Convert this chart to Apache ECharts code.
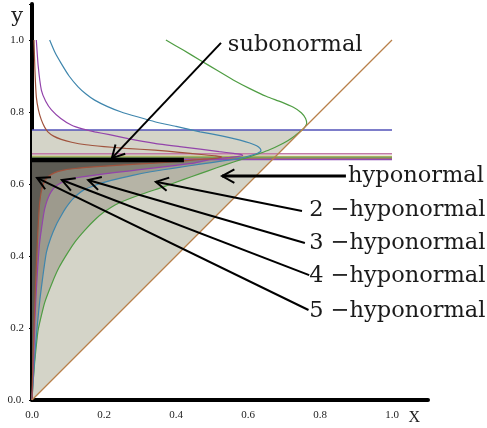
<!DOCTYPE html>
<html>
<head>
<meta charset="UTF-8">
<title>k-hyponormal regions</title>
<style>
  html, body { margin: 0; padding: 0; width: 100%; height: 100%; overflow: hidden; background: #fff; }
  #chart { width: 487px; height: 428px; }
</style>
<script src="https://cdn.jsdelivr.net/npm/echarts@6/dist/echarts.min.js"></script>
</head>
<body>
<div id="chart"></div>
<script>
// tick labels
const xTickLabels = ['0.0', '0.2', '0.4', '0.6', '0.8', '1.0'];
const yTickLabels = ['0.0.', '0.2', '0.4', '0.6', '0.8', '1.0'];

// straight pieces
const diagonal = [[0, 0], [1, 1]];
const subnormalSeg = [[0, 0.667], [0.422, 0.667]];
const hLevels = [0.75, 0.684, 0.677, 0.674, 0.671, 0.668];
const hColors = ['#5252b8', '#c27aa6', '#bdb65c', '#6aa86a', '#a87a50', '#8c4cb4'];

// boundary curves: top -> nose -> origin
const greenCurve = [
  [0.372, 1.0], [0.42, 0.972], [0.467, 0.944], [0.515, 0.915], [0.559, 0.889], [0.605, 0.865],
  [0.652, 0.843], [0.692, 0.828], [0.726, 0.813], [0.748, 0.798], [0.76, 0.782], [0.763, 0.768],
  [0.757, 0.757], [0.75, 0.75], [0.725, 0.73], [0.698, 0.713], [0.655, 0.693], [0.606, 0.676],
  [0.6, 0.674], [0.56, 0.661], [0.513, 0.645], [0.465, 0.628], [0.42, 0.612], [0.365, 0.592],
  [0.3, 0.57], [0.239, 0.546], [0.2, 0.522], [0.174, 0.5], [0.147, 0.472], [0.12, 0.44],
  [0.1, 0.41], [0.075, 0.368], [0.057, 0.328], [0.035, 0.27], [0.017, 0.194], [0.007, 0.1],
  [0.002, 0.035], [0, 0]
];
const blueCurve = [
  [0.049, 1.0], [0.064, 0.965], [0.081, 0.935], [0.103, 0.9], [0.128, 0.87], [0.15, 0.85],
  [0.174, 0.833], [0.21, 0.815], [0.248, 0.8], [0.295, 0.786], [0.341, 0.773], [0.4, 0.76],
  [0.467, 0.745], [0.53, 0.733], [0.578, 0.722], [0.605, 0.714], [0.624, 0.706], [0.634, 0.698],
  [0.636, 0.692], [0.628, 0.686], [0.6, 0.677], [0.575, 0.671], [0.53, 0.664], [0.467, 0.655],
  [0.4, 0.645], [0.33, 0.634], [0.28, 0.624], [0.22, 0.61], [0.18, 0.598], [0.143, 0.583],
  [0.115, 0.56], [0.095, 0.535], [0.081, 0.512], [0.069, 0.49], [0.052, 0.45], [0.04, 0.41],
  [0.031, 0.35], [0.022, 0.28], [0.015, 0.21], [0.009, 0.14], [0.004, 0.065], [0, 0]
];
const purpleCurve = [
  [0.012, 1.0], [0.017, 0.93], [0.026, 0.861], [0.038, 0.83], [0.054, 0.806], [0.08, 0.782],
  [0.109, 0.764], [0.14, 0.753], [0.174, 0.745], [0.215, 0.737], [0.267, 0.726], [0.341, 0.713],
  [0.41, 0.704], [0.467, 0.697], [0.52, 0.69], [0.56, 0.685], [0.582, 0.682], [0.585, 0.679],
  [0.57, 0.676], [0.54, 0.673], [0.5, 0.669], [0.45, 0.658], [0.4, 0.652], [0.341, 0.645],
  [0.267, 0.636], [0.2, 0.628], [0.128, 0.618], [0.1, 0.611], [0.08, 0.603], [0.064, 0.592],
  [0.053, 0.578], [0.045, 0.562], [0.039, 0.545], [0.034, 0.525], [0.027, 0.48], [0.021, 0.435],
  [0.016, 0.37], [0.012, 0.306], [0.008, 0.22], [0.005, 0.13], [0.002, 0.05], [0, 0]
];
const brownCurve = [
  [0.0056, 1.0], [0.008, 0.92], [0.012, 0.842], [0.018, 0.805], [0.026, 0.778], [0.035, 0.758],
  [0.044, 0.745], [0.06, 0.733], [0.081, 0.724], [0.11, 0.716], [0.15, 0.709], [0.2, 0.704],
  [0.26, 0.699], [0.341, 0.694], [0.41, 0.688], [0.47, 0.682], [0.51, 0.678], [0.527, 0.675],
  [0.51, 0.671], [0.48, 0.669], [0.45, 0.667], [0.4, 0.662], [0.341, 0.658], [0.267, 0.654],
  [0.18, 0.648], [0.12, 0.643], [0.085, 0.638], [0.062, 0.631], [0.047, 0.622], [0.037, 0.61],
  [0.03, 0.595], [0.025, 0.575], [0.021, 0.545], [0.018, 0.5], [0.015, 0.44], [0.012, 0.37],
  [0.009, 0.3], [0.006, 0.21], [0.003, 0.12], [0.001, 0.05], [0, 0]
];
const curveData = [greenCurve, blueCurve, purpleCurve, brownCurve];
const curveColors = ['#4f9d43', '#3f86ad', '#9344ab', '#a0533d'];

// shaded regions: hyponormal triangle, then nested 2..5-hyponormal wedges
const hypTriangle = [[0, 0], [0.75, 0.75], [0, 0.75]];
const wedgeTops = [0.674, 0.671, 0.669, 0.667];
const regionColors = ['#d4d4c8', '#b6b4a6', '#9d9a8d', '#848175', '#5d5b53'];

// annotations
const noteTexts = ['subonormal', 'hyponormal', '2 −hyponormal', '3 −hyponormal', '4 −hyponormal', '5 −hyponormal'];
const arrowTails = [[0.525, 0.992], [0.872, 0.622], [0.75, 0.525], [0.758, 0.436], [0.77, 0.347], [0.768, 0.25]];
const arrowTips = [[0.222, 0.672], [0.528, 0.622], [0.344, 0.606], [0.156, 0.611], [0.083, 0.611], [0.014, 0.617]];
const notePos = [[0.544, 0.986], [0.878, 0.622], [0.77, 0.528], [0.77, 0.436], [0.77, 0.344], [0.77, 0.247]];

const regionPolys = [hypTriangle].concat(curveData.map(function (c, i) {
  return c.filter(function (p) { return p[1] <= wedgeTops[i] + 1e-9; }).concat([[0, wedgeTops[i]]]);
}));

const chart = echarts.init(document.getElementById('chart'), null, { renderer: 'canvas' });

const series = [];

series.push({
  type: 'custom',
  silent: true,
  z: 1,
  data: regionPolys.map(function () { return [0, 0]; }),
  renderItem: function (params, api) {
    const pts = regionPolys[params.dataIndex].map(function (p) { return api.coord(p); });
    return { type: 'polygon', shape: { points: pts }, style: { fill: regionColors[params.dataIndex] } };
  }
});

hLevels.forEach(function (lv, i) {
  series.push({
    type: 'line', z: 2, showSymbol: false, silent: true,
    data: [[0, lv], [1, lv]],
    lineStyle: { color: hColors[i], width: 1.3 }
  });
});

curveData.forEach(function (c, i) {
  series.push({
    type: 'line', z: 3, showSymbol: false, silent: true, smooth: 0.15,
    data: c,
    lineStyle: { color: curveColors[i], width: 1.2 }
  });
});

series.push({
  type: 'line', z: 3, showSymbol: false, silent: true,
  data: diagonal,
  lineStyle: { color: '#b8804a', width: 1.2 }
});

series.push({
  type: 'line', z: 4, showSymbol: false, silent: true,
  data: subnormalSeg,
  lineStyle: { color: '#000', width: 4.5, cap: 'butt' }
});

series.push({
  type: 'custom',
  silent: true,
  z: 5,
  data: arrowTails.map(function (t, i) {
    return [t[0], t[1], arrowTips[i][0], arrowTips[i][1], notePos[i][0], notePos[i][1]];
  }),
  renderItem: function (params, api) {
    const a = api.coord([api.value(0), api.value(1)]);
    const b = api.coord([api.value(2), api.value(3)]);
    const t = api.coord([api.value(4), api.value(5)]);
    const ang = Math.atan2(a[1] - b[1], a[0] - b[0]);
    const L = 14, w = 0.5;
    const w1 = [b[0] + L * Math.cos(ang + w), b[1] + L * Math.sin(ang + w)];
    const w2 = [b[0] + L * Math.cos(ang - w), b[1] + L * Math.sin(ang - w)];
    const lw = params.dataIndex === 1 ? 3 : 2;
    return {
      type: 'group',
      children: [
        { type: 'polyline', shape: { points: [a, b] }, style: { stroke: '#000', lineWidth: lw, fill: null } },
        { type: 'polyline', shape: { points: [w1, b, w2] }, style: { stroke: '#000', lineWidth: 2, fill: null } },
        {
          type: 'text', x: t[0], y: t[1],
          style: {
            text: noteTexts[params.dataIndex], fontFamily: 'DejaVu Serif', fontSize: 22.5,
            fill: '#1a1a1a', align: 'left', verticalAlign: 'middle'
          }
        }
      ]
    };
  }
});

const option = {
  animation: false,
  backgroundColor: '#fff',
  grid: { left: 32, right: 59, top: 4, bottom: 28, containLabel: false, outerBoundsMode: 'none' },
  xAxis: {
    type: 'value', min: 0, max: 1.1, interval: 0.2,
    name: 'X', nameLocation: 'end', nameGap: -8,
    nameTextStyle: { fontFamily: 'Liberation Serif', fontSize: 16, color: '#222', align: 'right', verticalAlign: 'top', padding: [10, 0, 0, 0] },
    axisLine: { show: true, lineStyle: { color: '#000', width: 4 } },
    axisTick: { show: false },
    splitLine: { show: false },
    axisLabel: {
      margin: 10, fontFamily: 'Liberation Serif', fontSize: 11, color: '#222',
      formatter: function (v, idx) { return xTickLabels[idx] || ''; }
    }
  },
  yAxis: {
    type: 'value', min: 0, max: 1.1, interval: 0.2,
    name: 'y', nameLocation: 'end', nameGap: -13,
    nameTextStyle: { fontFamily: 'DejaVu Serif', fontSize: 21, color: '#222', align: 'right', verticalAlign: 'middle', padding: [0, 9, 0, 0] },
    axisLine: { show: true, lineStyle: { color: '#000', width: 4 } },
    axisTick: { show: true, length: 3, lineStyle: { color: '#000', width: 1 } },
    splitLine: { show: false },
    axisLabel: {
      margin: 8, fontFamily: 'Liberation Serif', fontSize: 11, color: '#222',
      formatter: function (v, idx) { return yTickLabels[idx] || ''; }
    }
  },
  series: series
};

chart.setOption(option);
</script>
</body>
</html>
